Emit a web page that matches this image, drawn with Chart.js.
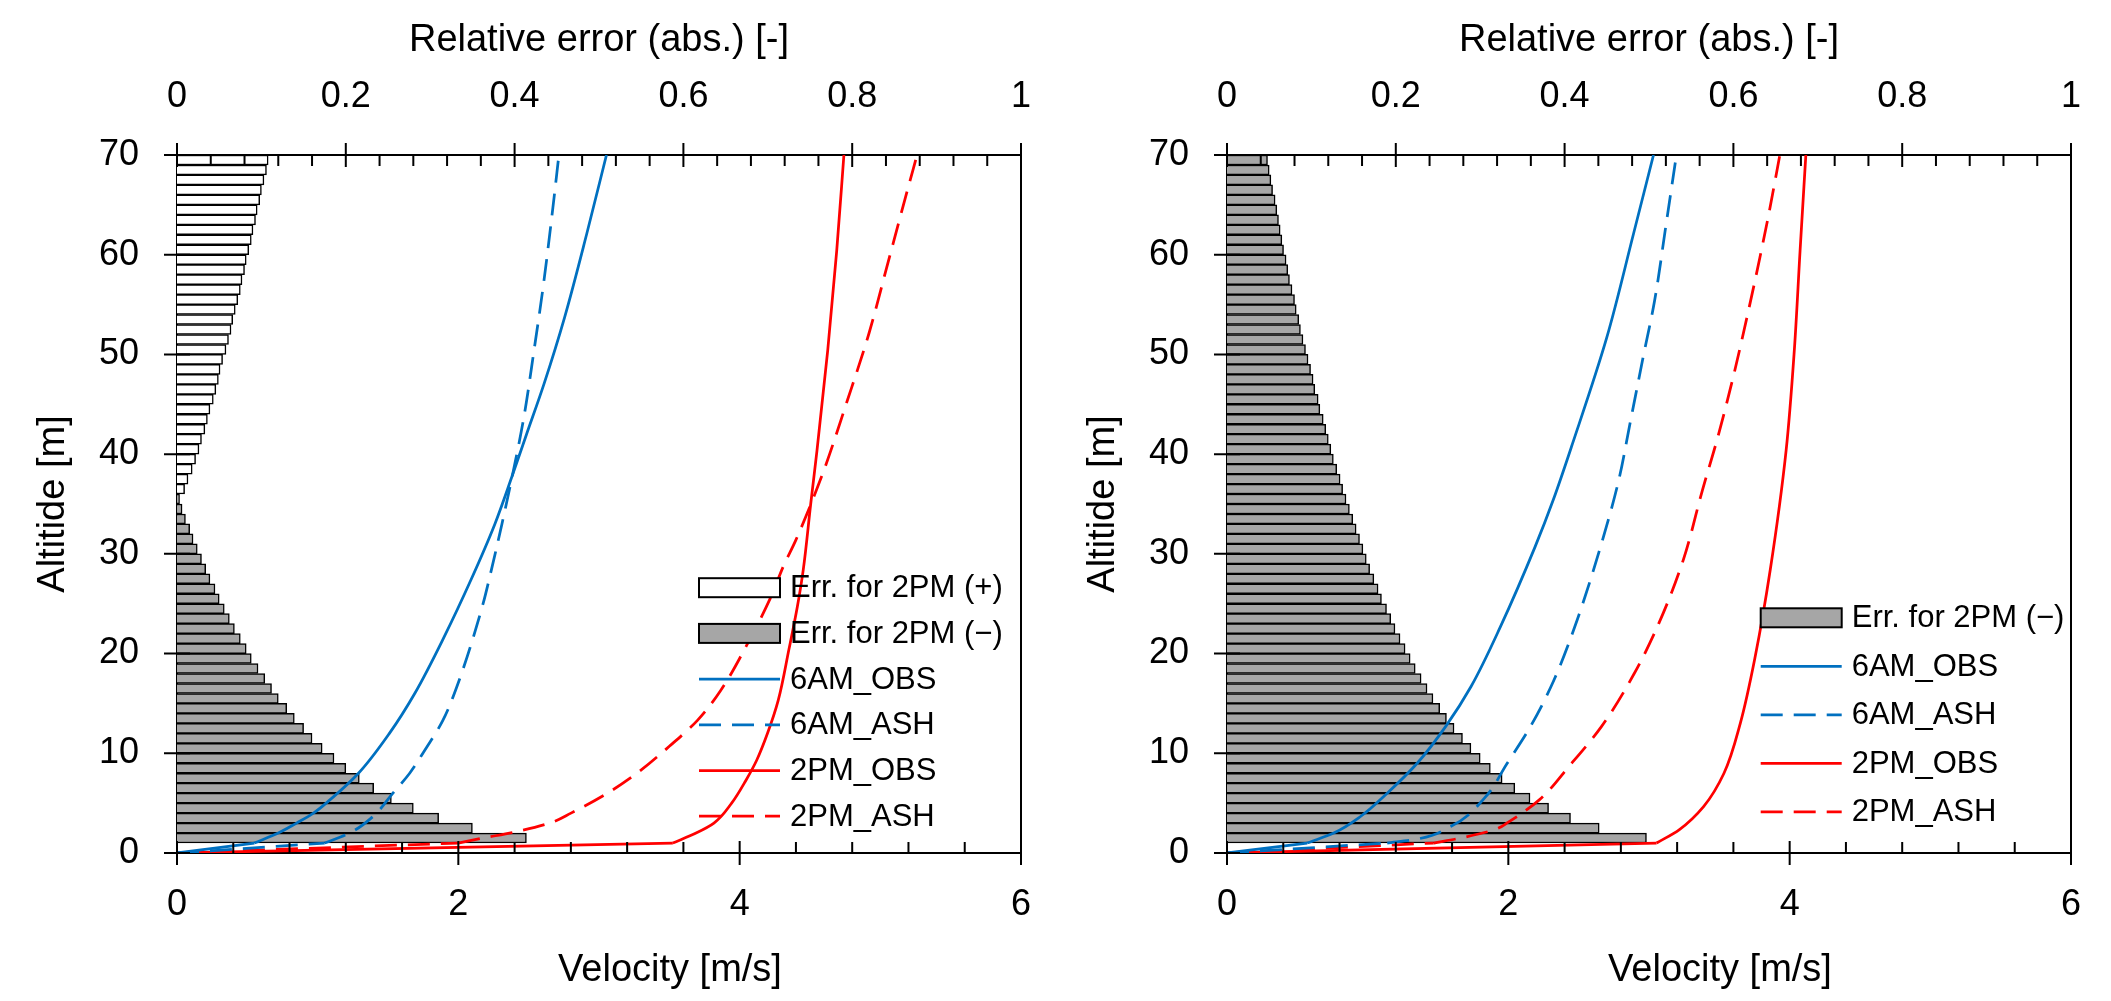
<!DOCTYPE html>
<html>
<head>
<meta charset="utf-8">
<script src="https://cdn.jsdelivr.net/npm/chart.js@4.4.1/dist/chart.umd.min.js"></script>
<style>
  html, body { margin: 0; padding: 0; background: #fff; }
  #wrap { position: relative; width: 2111px; height: 1001px; overflow: hidden; }
  canvas { position: absolute; top: 0; }
  #leftChart { left: 0; }
  #rightChart { left: 1050px; }
</style>
</head>
<body>
<div id="wrap">
  <canvas id="leftChart" width="1056" height="1001"></canvas>
  <canvas id="rightChart" width="1056" height="1001"></canvas>
</div>
<script>
// altitude of each error bar (middle of each 1 m layer)
const barAltitudes = [
  1.5, 2.5, 3.5, 4.5, 5.5, 6.5, 7.5, 8.5, 9.5, 10.5, 11.5, 12.5, 13.5, 14.5, 15.5,
  16.5, 17.5, 18.5, 19.5, 20.5, 21.5, 22.5, 23.5, 24.5, 25.5, 26.5, 27.5, 28.5, 29.5,
  30.5, 31.5, 32.5, 33.5, 34.5, 35.5, 36.5, 37.5, 38.5, 39.5, 40.5, 41.5, 42.5, 43.5,
  44.5, 45.5, 46.5, 47.5, 48.5, 49.5, 50.5, 51.5, 52.5, 53.5, 54.5, 55.5, 56.5, 57.5,
  58.5, 59.5, 60.5, 61.5, 62.5, 63.5, 64.5, 65.5, 66.5, 67.5, 68.5, 69.5
];

// left panel: relative error of 2PM (1.5 .. 35.5 m negative, 36.5 .. 69.5 m positive)
const leftErrMinus = [
  0.414, 0.350, 0.310, 0.280, 0.254, 0.233, 0.216, 0.200, 0.186, 0.172,
  0.160, 0.150, 0.139, 0.130, 0.120, 0.112, 0.104, 0.096, 0.088, 0.082,
  0.075, 0.068, 0.062, 0.056, 0.050, 0.045, 0.039, 0.034, 0.029, 0.024,
  0.019, 0.015, 0.010, 0.006, 0.003
];
const leftErrPlus = [
  0.009, 0.013, 0.018, 0.022, 0.026, 0.029, 0.033, 0.036, 0.039, 0.043,
  0.046, 0.049, 0.051, 0.054, 0.058, 0.061, 0.064, 0.066, 0.069, 0.072,
  0.075, 0.077, 0.080, 0.082, 0.085, 0.088, 0.090, 0.093, 0.095, 0.098,
  0.100, 0.103, 0.106, 0.108
];
// right panel: negative error on every layer
const rightErrMinus = [
  0.497, 0.441, 0.407, 0.381, 0.359, 0.341, 0.326, 0.312, 0.300, 0.289,
  0.279, 0.269, 0.260, 0.252, 0.244, 0.237, 0.230, 0.223, 0.217, 0.211,
  0.205, 0.199, 0.194, 0.189, 0.183, 0.179, 0.174, 0.169, 0.165, 0.161,
  0.157, 0.153, 0.149, 0.145, 0.141, 0.137, 0.134, 0.130, 0.126, 0.123,
  0.120, 0.117, 0.114, 0.110, 0.108, 0.104, 0.102, 0.099, 0.096, 0.093,
  0.090, 0.087, 0.085, 0.082, 0.080, 0.077, 0.074, 0.072, 0.070, 0.067,
  0.065, 0.063, 0.061, 0.059, 0.057, 0.054, 0.052, 0.050, 0.048
];

// velocity profiles as [velocity m/s, altitude m]; first leg is ground -> 1 m
const left6amObs = [[0, 0], [0.55, 1], [0.72, 2], [0.85, 3], [0.97, 4], [1.085, 5.3], [1.29, 8],
  [1.51, 12], [1.69, 16], [1.90, 21.7], [2.09, 27.4], [2.26, 33], [2.38, 37.7], [2.485, 42],
  [2.608, 47], [2.755, 53.7], [2.913, 62.1], [3.053, 70]];
const left6amAsh = [[0, 0], [1.05, 1], [1.227, 2], [1.393, 3.66], [1.535, 6], [1.654, 8], [1.748, 10],
  [1.89, 13.3], [1.99, 16.7], [2.17, 24.7], [2.235, 28.4], [2.31, 33], [2.382, 37.7], [2.466, 43.7],
  [2.538, 50.4], [2.606, 57.1], [2.672, 64.7], [2.715, 70]];
const left2pmObs = [[0, 0], [3.525, 1], [3.69, 2], [3.817, 3], [3.943, 5], [4.045, 7.3], [4.121, 9.3],
  [4.198, 12], [4.274, 15.3], [4.35, 20.4], [4.41, 24.7], [4.452, 28.4], [4.505, 35], [4.55, 40.4],
  [4.626, 50.4], [4.69, 60.4], [4.741, 70]];
const left2pmAsh = [[0, 0], [2.0, 1], [2.175, 1.5], [2.388, 2.06], [2.649, 3], [2.801, 4], [3.06, 6],
  [3.27, 8], [3.50, 10.7], [3.70, 13.3], [3.865, 16.3], [4.071, 21.4], [4.223, 25.7], [4.309, 28.7],
  [4.40, 31.4], [4.589, 38], [4.766, 45.4], [4.919, 52.1], [5.045, 58.7], [5.172, 65.4], [5.261, 70]];

const right6amObs = [[0, 0], [0.57, 1], [0.759, 2], [0.949, 3.66], [1.139, 6], [1.352, 9], [1.555, 12.7],
  [1.735, 16.7], [1.944, 22.7], [2.19, 30.7], [2.319, 35.4], [2.455, 41], [2.70, 51.7], [2.89, 62.1],
  [3.032, 70]];
const right6amAsh = [[0, 0], [1.139, 1], [1.328, 1.33], [1.59, 2.66], [1.83, 5.5], [1.992, 9], [2.158, 12.7],
  [2.323, 17.3], [2.49, 23.4], [2.655, 30.7], [2.785, 37.4], [2.864, 43], [2.958, 49.7], [3.04, 55.4],
  [3.122, 63.1], [3.195, 70]];
const right2pmObs = [[0, 0], [3.054, 1], [3.214, 2.33], [3.388, 4.66], [3.533, 8], [3.649, 13],
  [3.755, 19.7], [3.862, 28.4], [3.975, 40.4], [4.033, 50.4], [4.074, 60.4], [4.115, 70]];
const right2pmAsh = [[0, 0], [1.47, 1], [1.66, 1.5], [1.9, 2.33], [2.0, 3.1], [2.22, 5.33], [2.43, 8.67],
  [2.663, 12.7], [2.895, 18], [3.069, 23], [3.244, 29.4], [3.38, 36.4], [3.489, 41.7], [3.598, 47.7],
  [3.707, 54.4], [3.788, 59.7], [3.856, 64.4], [3.93, 70]];

const BLUE = '#0070C0';
const RED = '#FF0000';
const GREY = '#A6A6A6';
const FONT = "'Liberation Sans', Arial, sans-serif";

Chart.defaults.font.family = FONT;
Chart.defaults.color = '#000';

function lineSet(label, pairs, color, dashed) {
  return {
    type: 'line',
    label: label,
    data: pairs.map(p => ({x: p[0], y: p[1]})),
    xAxisID: 'x',
    yAxisID: 'y',
    borderColor: color,
    backgroundColor: color,
    borderWidth: 2.75,
    borderDash: dashed ? [22, 11] : [],
    pointRadius: 0,
    fill: false,
    cubicInterpolationMode: 'monotone',
    order: 1
  };
}

// the ground leg is straight, the rest is a smooth curve
function profile(label, pairs, color, dashed) {
  const ground = lineSet('', pairs.slice(0, 2), color, dashed);
  ground.cubicInterpolationMode = 'default';
  ground.tension = 0;
  return [lineSet(label, pairs.slice(1), color, dashed), ground];
}

function barSet(label, alts, vals, fill) {
  return {
    type: 'bar',
    label: label,
    data: vals.map((v, i) => ({x: v, y: alts[i]})),
    xAxisID: 'x2',
    yAxisID: 'y',
    backgroundColor: fill,
    borderColor: '#000',
    borderWidth: 1.5,
    borderSkipped: 'start',
    grouped: false,
    barPercentage: 1,
    categoryPercentage: 1,
    order: 2
  };
}

// crossing major ticks, inward minor ticks, and the right frame line
const axisTicks = {
  id: 'axisTicks',
  afterDraw(chart) {
    const {ctx, chartArea: a, scales} = chart;
    ctx.save();
    ctx.strokeStyle = '#000';
    ctx.lineWidth = 2;
    ctx.beginPath();
    ctx.moveTo(a.right, a.top - 1);
    ctx.lineTo(a.right, a.bottom + 1);

    const hMarks = (scale, major, minor, y, dir) => {
      const n = Math.round((scale.max - scale.min) / minor);
      const every = Math.round(major / minor);
      for (let i = 0; i <= n; i++) {
        const px = scale.getPixelForValue(scale.min + i * minor);
        if (i % every === 0) {
          ctx.moveTo(px, y - 12 * dir);
          ctx.lineTo(px, y + 12 * dir);
        } else {
          ctx.moveTo(px, y);
          ctx.lineTo(px, y + 11 * dir);
        }
      }
    };
    hMarks(scales.x2, 0.2, 0.04, a.top, 1);
    hMarks(scales.x, 2, 0.4, a.bottom, -1);

    for (let v = 0; v <= 70; v += 10) {
      const py = scales.y.getPixelForValue(v);
      ctx.moveTo(a.left - 13, py);
      ctx.lineTo(a.left + 13, py);
    }
    ctx.stroke();
    ctx.restore();
  }
};

// the velocity title sits right of the plot centre in the original
const bottomTitle = {
  id: 'bottomTitle',
  afterDraw(chart, args, opts) {
    const {ctx, chartArea: a} = chart;
    ctx.save();
    ctx.font = '38px ' + FONT;
    ctx.fillStyle = '#000';
    ctx.textAlign = 'center';
    ctx.textBaseline = 'middle';
    ctx.fillText(opts.text, (a.left + a.right) / 2 + opts.dx, chart.height - opts.fromBottom);
    ctx.restore();
  }
};

// legend drawn inside the plot, like the original
const boxLegend = {
  id: 'boxLegend',
  afterDraw(chart, args, opts) {
    const {ctx, chartArea: a} = chart;
    const x0 = a.left + opts.x;
    const y0 = a.top + opts.y;
    ctx.save();
    ctx.font = '31px ' + FONT;
    ctx.textBaseline = 'middle';
    chart.data.datasets.filter(ds => ds.label).forEach((ds, i) => {
      const y = y0 + i * opts.gap;
      if (ds.type === 'bar') {
        ctx.fillStyle = ds.backgroundColor;
        ctx.fillRect(x0, y - 9.5, 81, 19);
        ctx.lineWidth = 2;
        ctx.strokeStyle = '#000';
        ctx.strokeRect(x0, y - 9.5, 81, 19);
      } else {
        ctx.strokeStyle = ds.borderColor;
        ctx.lineWidth = ds.borderWidth;
        ctx.setLineDash(ds.borderDash);
        ctx.beginPath();
        ctx.moveTo(x0, y);
        ctx.lineTo(x0 + 81, y);
        ctx.stroke();
        ctx.setLineDash([]);
      }
      ctx.fillStyle = '#000';
      ctx.fillText(ds.label, x0 + 91, y + 1);
    });
    ctx.restore();
  }
};

function axisBorder() {
  return {color: '#000', width: 2};
}

function plainNumber(value) {
  return String(Math.round(value * 100) / 100);
}

// fixed box sizes so the plot area sits where it does in the original
function fixHeight(h) {
  return s => { s.height = h; s.paddingLeft = 0; s.paddingRight = 0; };
}

function makeChart(canvasId, bars, profiles, legendPos) {
  const ctx = document.getElementById(canvasId).getContext('2d');
  const curves = profiles.map(p => p[0]);
  const grounds = profiles.map(p => p[1]);
  return new Chart(ctx, {
    type: 'bar',
    data: {datasets: bars.concat(curves, grounds)},
    plugins: [axisTicks, bottomTitle, boxLegend],
    options: {
      responsive: false,
      animation: false,
      devicePixelRatio: 1,
      indexAxis: 'y',
      layout: {padding: {left: 0, right: 35, top: 0, bottom: 0}},
      plugins: {
        legend: {display: false},
        tooltip: {enabled: false},
        boxLegend: legendPos,
        bottomTitle: {text: 'Velocity [m/s]', dx: 71, fromBottom: 30.3}
      },
      scales: {
        y: {
          type: 'linear', position: 'left', min: 0, max: 70, offset: false,
          ticks: {stepSize: 10, padding: 38, font: {size: 36}, callback: plainNumber},
          grid: {display: false, drawTicks: false},
          border: axisBorder(),
          title: {display: true, text: 'Altitide [m]', font: {size: 38}, padding: {top: 31, bottom: 0}},
          afterFit(s) { s.width = 177; s.paddingTop = 0; s.paddingBottom = 0; }
        },
        x: {
          type: 'linear', position: 'bottom', min: 0, max: 6, offset: false,
          ticks: {stepSize: 2, padding: 30, font: {size: 36}, maxRotation: 0, callback: plainNumber},
          grid: {display: false, drawTicks: false},
          border: axisBorder(),
          afterFit: fixHeight(148)
        },
        x2: {
          type: 'linear', position: 'top', min: 0, max: 1, offset: false,
          ticks: {stepSize: 0.2, padding: 36, font: {size: 36}, maxRotation: 0, callback: plainNumber},
          grid: {display: false, drawTicks: false},
          border: axisBorder(),
          title: {display: true, text: 'Relative error (abs.) [-]', font: {size: 38}, padding: {top: 17.6, bottom: 0}},
          afterFit: fixHeight(155)
        }
      }
    }
  });
}

makeChart('leftChart', [
  barSet('Err. for 2PM (+)', barAltitudes.slice(35), leftErrPlus, '#FFFFFF'),
  barSet('Err. for 2PM (\u2212)', barAltitudes.slice(0, 35), leftErrMinus, GREY)
], [
  profile('6AM_OBS', left6amObs, BLUE, false),
  profile('6AM_ASH', left6amAsh, BLUE, true),
  profile('2PM_OBS', left2pmObs, RED, false),
  profile('2PM_ASH', left2pmAsh, RED, true)
], {x: 522, y: 432.7, gap: 45.7});

makeChart('rightChart', [
  barSet('Err. for 2PM (\u2212)', barAltitudes, rightErrMinus, GREY)
], [
  profile('6AM_OBS', right6amObs, BLUE, false),
  profile('6AM_ASH', right6amAsh, BLUE, true),
  profile('2PM_OBS', right2pmObs, RED, false),
  profile('2PM_ASH', right2pmAsh, RED, true)
], {x: 533.7, y: 462.8, gap: 48.5});
</script>
</body>
</html>
